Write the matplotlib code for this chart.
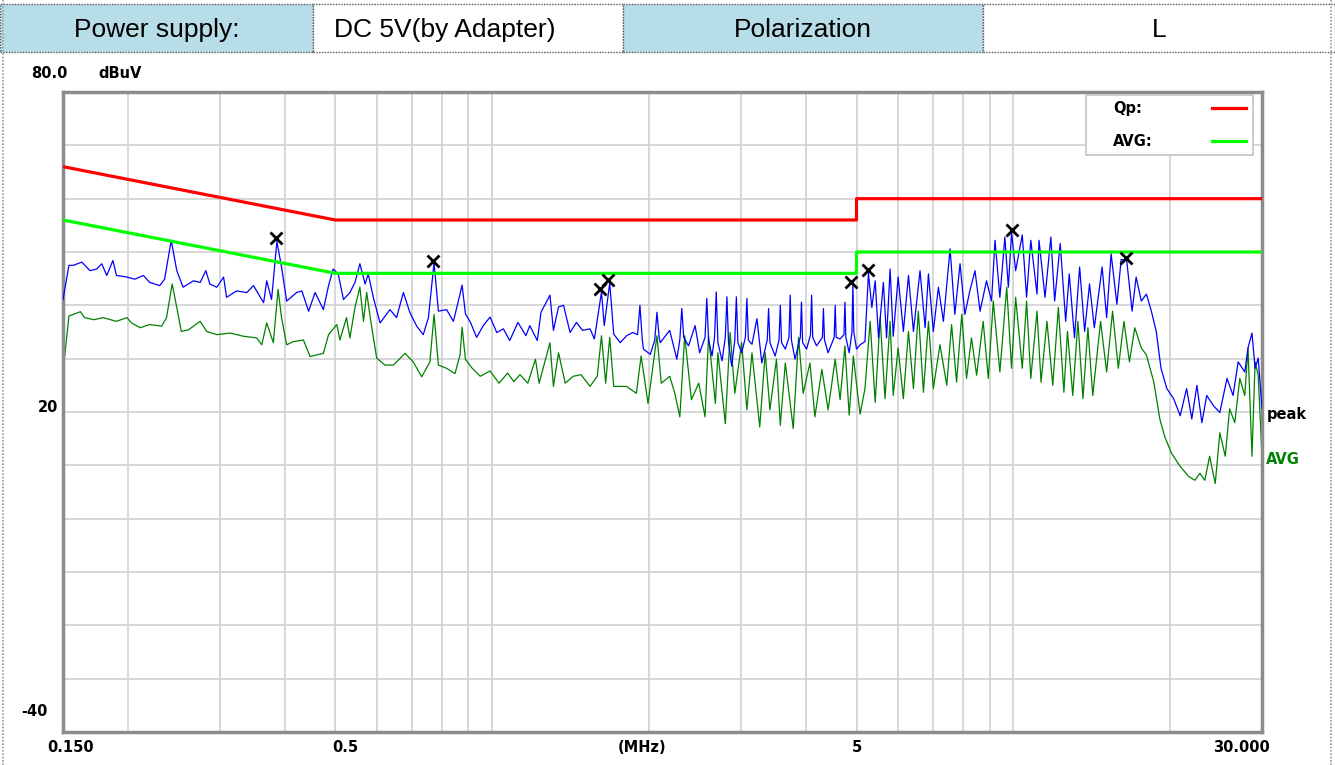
import matplotlib
matplotlib.use("Agg")
import matplotlib.pyplot as plt
from matplotlib.patches import Rectangle
from matplotlib.lines import Line2D
from matplotlib.ticker import FixedLocator, NullLocator

# ---------------------------------------------------------------------------
# data (MHz, dBuV)
# ---------------------------------------------------------------------------
header_labels = ["Power supply:", "DC 5V(by Adapter)", "Polarization", "L"]
header_fills = ["#b7dde8", "#ffffff", "#b7dde8", "#ffffff"]

qp_limit_freq = [0.15, 0.5, 0.5, 5.0, 5.0, 30.0]
qp_limit_dbuv = [66, 56, 56, 56, 60, 60]
avg_limit_freq = [0.15, 0.5, 0.5, 5.0, 5.0, 30.0]
avg_limit_dbuv = [56, 46, 46, 46, 50, 50]

peak_freq = [
    0.150, 0.154, 0.157, 0.163, 0.169, 0.174, 0.178, 0.182, 0.187, 0.190,
    0.199, 0.206, 0.214, 0.220, 0.230, 0.235, 0.242, 0.248, 0.255, 0.267,
    0.275, 0.282, 0.287, 0.296, 0.305, 0.309, 0.323, 0.338, 0.348, 0.364,
    0.369, 0.377, 0.386, 0.394, 0.403, 0.421, 0.431, 0.444, 0.457, 0.474,
    0.485, 0.495, 0.506, 0.518, 0.533, 0.545, 0.557, 0.570, 0.578, 0.591,
    0.609, 0.636, 0.655, 0.675, 0.695, 0.716, 0.737, 0.754, 0.773, 0.788,
    0.817, 0.842, 0.867,
    0.875, 0.888, 0.908, 0.933, 0.961, 0.990, 1.02, 1.05, 1.08, 1.12,
    1.16, 1.18, 1.22, 1.24, 1.29, 1.31, 1.34, 1.37, 1.41, 1.45,
    1.49, 1.54, 1.57, 1.62, 1.64, 1.68, 1.71, 1.76, 1.81, 1.86,
    1.90, 1.92, 1.94, 1.95, 2.01, 2.05, 2.07, 2.09, 2.10, 2.19,
    2.26, 2.29, 2.31, 2.33, 2.38, 2.45, 2.50, 2.56, 2.58, 2.60,
    2.64, 2.67, 2.69, 2.71, 2.76, 2.80, 2.82, 2.84, 2.88, 2.92,
    2.94, 2.96, 3.01, 3.06, 3.08, 3.10, 3.15, 3.22, 3.29, 3.37,
    3.39, 3.41, 3.49, 3.55, 3.57, 3.59, 3.65, 3.71, 3.73, 3.75,
    3.81, 3.90, 3.92, 3.94, 4.01, 4.08, 4.10, 4.12, 4.19, 4.30,
    4.32, 4.34, 4.41, 4.53, 4.55, 4.57, 4.65, 4.73, 4.75, 4.77,
    4.84, 4.90, 4.92, 4.94, 5.00,
    5.08, 5.19, 5.27, 5.35, 5.43, 5.51, 5.63, 5.71, 5.80, 5.88,
    6.01, 6.15, 6.29, 6.43, 6.62, 6.77, 6.87, 7.02, 7.18, 7.34,
    7.56, 7.72, 7.90, 8.07, 8.25, 8.44, 8.63, 8.88, 9.08, 9.22,
    9.42, 9.63, 9.78, 9.92, 10.1, 10.4, 10.6, 10.8, 11.1, 11.2,
    11.5, 11.8, 12.0, 12.3, 12.6, 12.8, 13.1, 13.4, 13.7, 14.0,
    14.3, 14.8, 15.1, 15.4, 15.8, 16.1, 16.5, 16.9, 17.2, 17.6,
    18.0, 18.4, 18.8, 19.2, 19.7, 20.3, 20.9, 21.5, 22.0, 22.5,
    23.0, 23.5, 24.2, 24.9, 25.7, 26.4, 27.0, 27.8, 28.2, 28.7,
    29.1, 29.5, 30.0,
]
peak_dbuv = [
    41.1, 47.5, 47.5, 48.1, 46.5, 46.8, 47.8, 45.6, 48.4, 45.6,
    45.3, 44.9, 45.6, 44.3, 43.7, 44.9, 52.2, 46.5, 43.4, 44.6,
    44.3, 46.5, 44.0, 43.4, 45.3, 41.5, 42.7, 42.4, 43.7, 40.5,
    44.6, 41.1, 52.0, 47.2, 40.8, 42.4, 42.7, 38.9, 42.4, 39.2,
    43.7, 46.8, 45.9, 41.1, 42.4, 44.3, 47.8, 44.0, 45.9, 41.5,
    36.7, 39.2, 37.7, 42.4, 38.6, 36.1, 34.5, 37.7, 48.0, 38.9,
    39.2, 37.0, 42.1,
    43.8, 38.4, 36.8, 34.0, 36.2, 37.8, 34.9, 35.6, 33.4, 36.8,
    34.3, 36.2, 33.4, 38.7, 41.9, 35.3, 39.7, 40.0, 34.9, 36.8,
    35.3, 35.6, 33.7, 42.5, 36.2, 44.2, 34.6, 33.0, 34.3, 34.9,
    34.5, 40.0, 33.5, 31.8, 30.8, 33.5, 38.7, 34.0, 33.0, 35.3,
    29.9, 33.5, 39.4, 34.0, 32.4, 36.2, 31.1, 34.0, 41.3, 33.5,
    30.5, 34.0, 42.5, 33.0, 29.6, 34.0, 41.6, 33.0, 28.6, 33.5,
    41.6, 33.0, 31.1, 34.0, 41.3, 33.5, 32.7, 37.5, 29.2, 33.5,
    39.4, 33.0, 30.5, 33.5, 40.0, 33.0, 31.8, 34.0, 41.9, 33.5,
    29.9, 34.0, 40.6, 33.0, 31.8, 34.5, 41.9, 34.0, 32.4, 34.0,
    39.4, 33.5, 31.1, 34.0, 40.0, 34.0, 33.7, 34.5, 40.6, 34.0,
    31.1, 35.0, 44.0, 35.0, 31.8,
    32.6, 33.2, 46.0, 39.6, 44.6, 33.9, 44.3, 33.9, 46.8, 34.2,
    45.3, 35.1, 45.6, 35.1, 46.5, 35.8, 45.9, 35.1, 43.4, 37.0,
    50.6, 38.3, 47.8, 38.3, 42.7, 46.5, 38.9, 44.6, 40.8, 52.2,
    41.5, 52.8, 43.4, 53.6, 46.5, 53.2, 41.5, 52.2, 42.1, 52.2,
    41.5, 52.8, 40.8, 51.6, 37.0, 45.9, 33.9, 47.2, 35.1, 44.0,
    35.8, 47.2, 37.7, 49.7, 40.2, 48.6, 48.4, 38.9, 45.3, 40.8,
    42.1, 38.9, 35.1, 28.2, 24.4, 22.5, 19.3, 24.4, 18.7, 25.0,
    18.0, 23.1, 21.2, 19.9, 26.3, 23.1, 29.4, 27.5, 32.0, 34.8,
    28.2, 30.1, 20.6,
]

avg_freq = [
    0.150, 0.154, 0.157, 0.162, 0.165, 0.172, 0.179, 0.190, 0.199, 0.203,
    0.211, 0.220, 0.232, 0.237, 0.243, 0.248, 0.253, 0.261, 0.275, 0.283,
    0.296, 0.314, 0.333, 0.353, 0.361, 0.369, 0.380, 0.388, 0.394, 0.403,
    0.415, 0.434, 0.447, 0.474, 0.485, 0.503, 0.510, 0.525, 0.533, 0.545,
    0.557, 0.566, 0.574, 0.587, 0.600, 0.622, 0.646, 0.680, 0.705, 0.732,
    0.759, 0.773, 0.788, 0.817, 0.848, 0.867,
    0.875, 0.888, 0.913, 0.948, 0.990, 1.03, 1.07, 1.10, 1.13, 1.17,
    1.21, 1.23, 1.29, 1.31, 1.34, 1.38, 1.43, 1.48, 1.54, 1.59,
    1.62, 1.65, 1.68, 1.71, 1.81, 1.89, 1.93, 1.99, 2.07, 2.11,
    2.19, 2.24, 2.29, 2.34, 2.41, 2.49, 2.56, 2.60, 2.68, 2.71,
    2.80, 2.86, 2.92, 3.01, 3.08, 3.15, 3.26, 3.34, 3.41, 3.51,
    3.57, 3.65, 3.78, 3.87, 3.95, 4.07, 4.16, 4.29, 4.41, 4.55,
    4.65, 4.75, 4.84, 4.93, 5.04,
    5.08, 5.19, 5.31, 5.43, 5.55, 5.67, 5.80, 5.88, 6.01, 6.15,
    6.29, 6.43, 6.57, 6.72, 6.87, 7.02, 7.23, 7.45, 7.61, 7.78,
    7.96, 8.13, 8.31, 8.50, 8.75, 8.95, 9.15, 9.42, 9.71, 9.92,
    10.1, 10.4, 10.6, 10.8, 11.1, 11.3, 11.6, 11.9, 12.2, 12.5,
    12.7, 13.0, 13.3, 13.6, 13.9, 14.2, 14.7, 15.1, 15.5, 15.9,
    16.3, 16.7, 17.1, 17.6, 18.0, 18.6, 19.1, 19.5, 20.1, 20.9,
    21.7, 22.3, 22.8, 23.3, 23.8, 24.4, 24.9, 25.5, 26.0, 26.6,
    27.2, 27.8, 28.2, 28.7, 29.1, 29.5, 30.0,
]
avg_dbuv = [
    27.5, 38.0, 38.3, 38.8, 37.7, 37.3, 37.7, 37.0, 37.7, 36.7,
    35.8, 36.4, 36.1, 37.7, 44.0, 39.6, 35.1, 35.4, 37.0, 35.1,
    34.5, 34.8, 34.2, 33.9, 32.6, 36.7, 33.0, 43.0, 37.7, 32.6,
    33.2, 33.5, 30.4, 31.0, 34.5, 36.4, 33.5, 37.7, 33.9, 39.6,
    43.4, 37.0, 42.4, 35.8, 30.1, 28.8, 28.8, 31.0, 29.4, 26.6,
    29.4, 38.3, 28.8, 28.2, 27.2, 30.7,
    35.9, 29.9, 28.3, 26.7, 27.7, 25.4, 27.3, 25.7, 27.0, 25.4,
    29.9, 25.4, 33.0, 24.8, 31.1, 25.4, 26.7, 27.0, 24.8, 26.7,
    34.3, 25.4, 34.0, 24.8, 24.8, 23.5, 30.5, 21.6, 34.3, 25.4,
    26.7, 23.5, 19.1, 34.3, 22.3, 25.4, 19.1, 34.3, 21.6, 31.1,
    17.8, 34.9, 23.5, 33.0, 20.4, 31.1, 17.2, 31.1, 20.4, 29.9,
    17.5, 29.2, 16.9, 34.0, 23.5, 29.2, 19.1, 28.0, 20.4, 29.9,
    22.3, 32.4, 19.4, 30.5, 22.3,
    19.6, 24.4, 37.0, 21.8, 37.7, 22.5, 37.0, 23.1, 32.0, 22.5,
    35.1, 24.4, 38.9, 23.7, 37.0, 24.4, 32.6, 25.0, 36.4, 25.6,
    38.3, 26.3, 33.9, 26.9, 37.0, 26.3, 40.8, 27.5, 43.4, 28.2,
    41.5, 28.2, 40.8, 26.3, 38.9, 25.6, 37.0, 25.0, 39.6, 23.7,
    35.1, 23.1, 37.0, 22.5, 35.8, 23.1, 37.0, 27.5, 38.9, 28.2,
    37.0, 29.4, 35.8, 32.0, 30.7, 25.6, 18.7, 15.5, 12.3, 9.8,
    7.9, 7.2, 8.5, 7.2, 11.7, 6.6, 16.1, 11.7, 20.6, 18.0,
    26.3, 23.1, 32.0, 11.7, 29.4, 26.9, 11.7,
]

# final-scan markers (x)
marker_freq = [0.385, 0.768, 1.61, 1.665, 4.87, 5.27, 9.92, 16.44]
marker_dbuv = [52.6, 48.4, 43.0, 44.7, 44.4, 46.6, 54.1, 48.8]

grid_freq = [0.2, 0.3, 0.4, 0.5, 0.6, 0.7, 0.8, 0.9,
             1, 2, 3, 4, 5, 6, 7, 8, 9, 10, 20]
grid_dbuv = list(range(-40, 81, 10))

# ---------------------------------------------------------------------------
W, H = 1335, 765
fig = plt.figure(figsize=(W / 100, H / 100), dpi=100)
fig.patch.set_facecolor("white")


def fx(px):
    return px / W


def fy(py):
    return 1 - py / H


# header row
cell_edges = [0, 313, 623, 983, 1335]
for i, (lab, fill) in enumerate(zip(header_labels, header_fills)):
    x0, x1 = cell_edges[i], cell_edges[i + 1]
    fig.add_artist(Rectangle((fx(x0), fy(52)), fx(x1 - x0), 48 / H,
                             transform=fig.transFigure, facecolor=fill,
                             edgecolor="#555555", lw=1.0, ls=(0, (1, 1))))
    cx = (x0 + x1) / 2 if i != 1 else 445
    fig.text(fx(cx), fy(30), lab, ha="center", va="center",
             fontsize=19, family="Liberation Sans", color="black")

# dotted page borders
for px in (3, 1331):
    fig.add_artist(Line2D([fx(px), fx(px)], [0, 1], transform=fig.transFigure,
                          color="#999999", lw=1.2, ls=(0, (1, 1))))

# plot area
ax = fig.add_axes([fx(63), fy(732), fx(1262 - 63), (732 - 92) / H])
ax.set_xscale("log")
ax.set_xlim(0.15, 30)
ax.set_ylim(-40, 80)
ax.xaxis.set_major_locator(FixedLocator(grid_freq))
ax.xaxis.set_minor_locator(NullLocator())
ax.yaxis.set_major_locator(FixedLocator(grid_dbuv))
ax.tick_params(length=0, labelbottom=False, labelleft=False)
ax.grid(True, color="#d4d4d4", lw=1.3)
ax.set_axisbelow(True)
for sp in ax.spines.values():
    sp.set_color("#8c8c8c")
    sp.set_linewidth(2.5)

ax.plot(avg_freq, avg_dbuv, color="#008000", lw=0.9, zorder=2)
ax.plot(peak_freq, peak_dbuv, color="#0000ff", lw=0.9, zorder=3)
ax.plot(qp_limit_freq, qp_limit_dbuv, color="#ff0000", lw=2.3, zorder=4)
ax.plot(avg_limit_freq, avg_limit_dbuv, color="#00ff00", lw=2.3, zorder=4)
ax.plot(marker_freq, marker_dbuv, ls="none", marker="x", color="black",
        ms=9, mew=2.0, zorder=5)

# legend box
ax.add_patch(Rectangle(((1086 - 63) / 1199, (732 - 155) / 640),
                       167 / 1199, 60 / 640, transform=ax.transAxes,
                       facecolor="white", edgecolor="#c8c8c8", lw=1.3, zorder=6))
legend_items = [("Qp:", "#ff0000", 108), ("AVG:", "#00ff00", 141)]
for lab, col, py in legend_items:
    yy = (732 - py) / 640
    ax.text((1113 - 63) / 1199, yy, lab, transform=ax.transAxes, ha="left",
            va="center", fontsize=10.5, fontweight="bold",
            family="DejaVu Sans", zorder=7)
    ax.plot([(1212 - 63) / 1199, (1246 - 63) / 1199], [yy, yy],
            transform=ax.transAxes, color=col, lw=2.3, zorder=7)

# axis annotations
bold = dict(fontsize=10.5, fontweight="bold", family="DejaVu Sans")
fig.text(fx(49), fy(74), "80.0", ha="center", va="center", **bold)
fig.text(fx(120), fy(74), "dBuV", ha="center", va="center", **bold)
fig.text(fx(48), fy(407), "20", ha="center", va="center", **bold)
fig.text(fx(34), fy(712), "-40", ha="center", va="center", **bold)
x_labels = [("0.150", 71), ("0.5", 345), ("(MHz)", 642), ("5", 857),
            ("30.000", 1241)]
for lab, px in x_labels:
    fig.text(fx(px), fy(747), lab, ha="center", va="center", **bold)
fig.text(fx(1267), fy(414), "peak", ha="left", va="center", color="black", **bold)
fig.text(fx(1266), fy(459), "AVG", ha="left", va="center", color="#008000", **bold)

fig.savefig("out.png", dpi=100)
